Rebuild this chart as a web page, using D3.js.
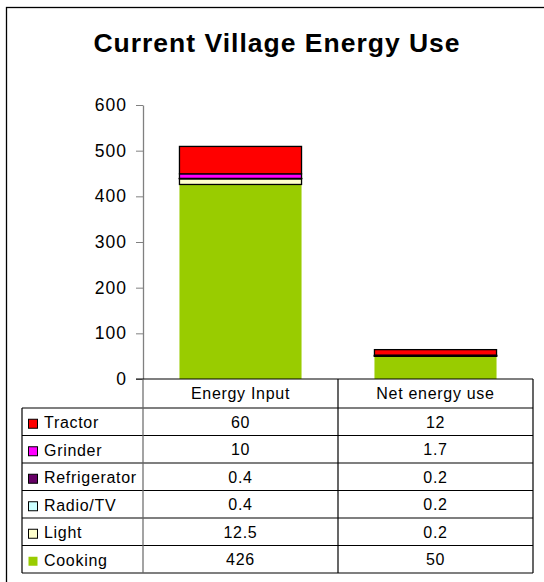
<!DOCTYPE html>
<html>
<head>
<meta charset="utf-8">
<script src="https://cdn.jsdelivr.net/npm/d3@7"></script>
<style>
  body { margin: 0; background: #fff; }
  svg { display: block; font-family: "Liberation Sans", Arial, sans-serif; }
</style>
</head>
<body>
<div id="chart"></div>
<script>
// chart values
const categories = ["Energy Input", "Net energy use"];
const seriesNames = ["Cooking", "Light", "Radio/TV", "Refrigerator", "Grinder", "Tractor"];
const energyInput = [426, 12.5, 0.4, 0.4, 10, 60];
const netEnergyUse = [50, 0.2, 0.2, 0.2, 1.7, 12];
const seriesColors = ["#99cc00", "#ffffcc", "#ccffff", "#660066", "#ff00ff", "#ff0000"];
const yTicks = [0, 100, 200, 300, 400, 500, 600];

const width = 544, height = 582;
const svg = d3.select("#chart").append("svg")
    .attr("width", width)
    .attr("height", height);

// outer frame (runs off the right/bottom edge like the reference)
svg.append("rect")
    .attr("x", 6.5).attr("y", 7.5)
    .attr("width", 560).attr("height", 600)
    .attr("fill", "#fff")
    .attr("stroke", "#000")
    .attr("stroke-width", 1.3);

svg.append("text")
    .attr("x", 277).attr("y", 52)
    .attr("text-anchor", "middle")
    .attr("font-size", 26.5)
    .attr("font-weight", "bold")
    .attr("letter-spacing", 1)
    .text("Current Village Energy Use");

const plotLeft = 143, plotRight = 533;
const y = d3.scaleLinear().domain([0, 600]).range([379, 105]);
const x = d3.scaleBand().domain(categories).range([plotLeft, plotRight]);
const barW = x.bandwidth() * 0.626;

// build rows for stacking
const rows = categories.map((c, i) => {
    const src = i === 0 ? energyInput : netEnergyUse;
    const r = { category: c };
    seriesNames.forEach((s, j) => r[s] = src[j]);
    return r;
});
const stacked = d3.stack().keys(seriesNames)(rows);

const layers = svg.append("g").selectAll("g")
    .data(stacked)
    .join("g")
    .attr("fill", (d, i) => seriesColors[i]);

layers.selectAll("rect")
    .data(d => d.map(v => Object.assign(v, { key: d.key })))
    .join("rect")
    .attr("x", d => x(d.data.category) + (x.bandwidth() - barW) / 2)
    .attr("width", barW)
    .attr("y", d => y(d[1]))
    .attr("height", d => y(d[0]) - y(d[1]))
    .attr("stroke", d => d.key === "Cooking" ? "none" : "#000")
    .attr("stroke-width", 1.3);

// y axis
const yAxis = svg.append("g")
    .attr("transform", `translate(${plotLeft},0)`)
    .call(d3.axisLeft(y).tickValues(yTicks).tickSize(7).tickPadding(9).tickSizeOuter(0));
yAxis.select(".domain").attr("stroke", "#808080").attr("stroke-width", 1.3);
yAxis.selectAll(".tick line").attr("stroke", "#808080");
yAxis.selectAll(".tick text")
    .attr("font-size", 17.5)
    .attr("letter-spacing", 1)
    .attr("font-family", "Liberation Sans, Arial, sans-serif")
    .attr("fill", "#000");

// data table
const tableLeft = 22, headerTop = 379, headerBottom = 408, rowH = 27.5;
const tableOrder = seriesNames.slice().reverse();
const tableBottom = headerBottom + rowH * tableOrder.length;
const t = svg.append("g").attr("font-size", 16).attr("letter-spacing", 0.7).attr("fill", "#000");

// header
t.selectAll("text.head")
    .data(categories)
    .join("text")
    .attr("class", "head")
    .attr("x", d => x(d) + x.bandwidth() / 2)
    .attr("y", 398.5)
    .attr("text-anchor", "middle")
    .text(d => d);

const lines = svg.append("g").attr("stroke", "#000").attr("stroke-width", 1.2);
// zero line / header top
lines.append("line").attr("x1", plotLeft - 7).attr("x2", plotRight)
    .attr("y1", headerTop).attr("y2", headerTop);
// horizontal row lines
d3.range(tableOrder.length + 1).forEach(i => {
    const yy = headerBottom + i * rowH;
    lines.append("line").attr("x1", tableLeft).attr("x2", plotRight)
        .attr("y1", yy).attr("y2", yy);
});
// verticals
lines.append("line").attr("x1", tableLeft).attr("x2", tableLeft)
    .attr("y1", headerBottom).attr("y2", tableBottom);
lines.append("line").attr("x1", plotLeft).attr("x2", plotLeft)
    .attr("y1", headerTop).attr("y2", tableBottom).attr("stroke", "#666");
categories.forEach(c => {
    const xx = x(c) + x.bandwidth();
    lines.append("line").attr("x1", xx).attr("x2", xx)
        .attr("y1", headerTop).attr("y2", tableBottom);
});

const rowG = t.selectAll("g.row")
    .data(tableOrder)
    .join("g")
    .attr("class", "row")
    .attr("transform", (d, i) => `translate(0,${headerBottom + i * rowH})`);

rowG.append("rect")
    .attr("x", 28.5).attr("y", rowH / 2 - 2.5)
    .attr("width", 9).attr("height", 9)
    .attr("fill", d => seriesColors[seriesNames.indexOf(d)])
    .attr("stroke", d => d === "Cooking" ? "none" : "#000")
    .attr("stroke-width", 1);

rowG.append("text")
    .attr("x", 44).attr("y", rowH / 2 + 6.5)
    .text(d => d);

categories.forEach((c, ci) => {
    const src = ci === 0 ? energyInput : netEnergyUse;
    rowG.append("text")
        .attr("x", x(c) + x.bandwidth() / 2)
        .attr("y", rowH / 2 + 6)
        .attr("text-anchor", "middle")
        .text(d => src[seriesNames.indexOf(d)]);
});
</script>
</body>
</html>
